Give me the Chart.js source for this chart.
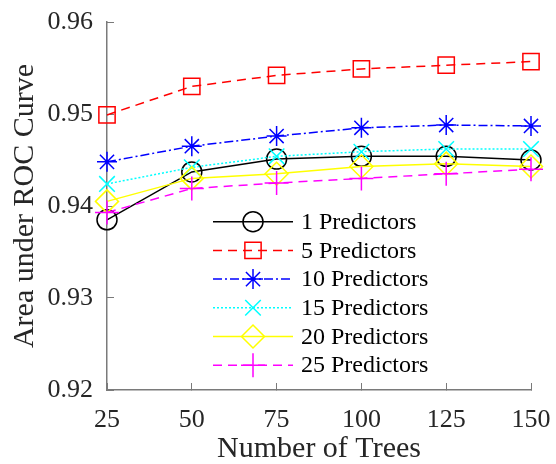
<!DOCTYPE html>
<html>
<head>
<meta charset="utf-8">
<script src="https://cdn.jsdelivr.net/npm/chart.js@4"></script>
<style>
  html, body { margin: 0; padding: 0; background: #fff; }
  #wrap { width: 556px; height: 464px; }
</style>
</head>
<body>
<div id="wrap"><canvas id="rocChart" width="556" height="464"></canvas></div>
<script>
// Data
const trees = [25, 50, 75, 100, 125, 150];
const pred1 = [0.9385, 0.9437, 0.9451, 0.9454, 0.9454, 0.9450];
const pred5 = [0.9499, 0.9530, 0.9542, 0.9549, 0.9553, 0.9557];
const pred10 = [0.9448, 0.9465, 0.9476, 0.9485, 0.9488, 0.9487];
const pred15 = [0.9424, 0.9442, 0.9454, 0.9459, 0.9462, 0.9462];
const pred20 = [0.9405, 0.9430, 0.9435, 0.9443, 0.9446, 0.9443];
const pred25 = [0.9393, 0.9419, 0.9425, 0.9430, 0.9435, 0.9440];
const seriesNames = ['1 Predictors', '5 Predictors', '10 Predictors', '15 Predictors', '20 Predictors', '25 Predictors'];
const yTicks = [0.92, 0.93, 0.94, 0.95, 0.96];
const xTicks = [25, 50, 75, 100, 125, 150];

const serif = "'Liberation Serif', 'Times New Roman', serif";
const axisGray = '#7a7a7a';

const styles = [
    {color: '#000000', dash: [], marker: 'circle', r: 10},
    {color: '#ff0000', dash: [9, 6], marker: 'rect', r: 11.5},
    {color: '#0000ff', dash: [9, 3, 2, 3], marker: 'star', r: 10},
    {color: '#00ffff', dash: [2, 2], marker: 'crossRot', r: 11},
    {color: '#ffff00', dash: [], marker: 'rectRot', r: 11.5},
    {color: '#ff00ff', dash: [9, 6], marker: 'cross', r: 12}
];

const allSeries = [pred1, pred5, pred10, pred15, pred20, pred25];

const datasets = allSeries.map((vals, i) => ({
    label: seriesNames[i],
    data: vals.map((v, j) => ({x: trees[j], y: v})),
    borderColor: styles[i].color,
    backgroundColor: 'rgba(0,0,0,0)',
    borderWidth: 1.5,
    borderDash: styles[i].dash,
    pointStyle: styles[i].marker,
    pointRadius: styles[i].r,
    pointBorderWidth: 1.5,
    pointBorderColor: styles[i].color,
    pointBackgroundColor: 'rgba(0,0,0,0)',
    tension: 0,
    fill: false,
    clip: false,
    order: 6 - i
}));

// no extra room for overhanging tick labels
function fixBox(s, w, h) {
    if (w) s.width = w;
    if (h) s.height = h;
    s.paddingLeft = 0;
    s.paddingRight = 0;
    s.paddingTop = 0;
    s.paddingBottom = 0;
}

// legend drawn inside the axes, MATLAB style
const insideLegend = {
    id: 'insideLegend',
    afterDraw(chart) {
        const ctx = chart.ctx;
        const area = chart.chartArea;
        const x0 = area.left + 106, x1 = area.left + 186, xm = area.left + 146;
        const y0 = area.top + 199.7, step = 28.7;
        ctx.save();
        chart.data.datasets.forEach((ds, i) => {
            const y = y0 + i * step;
            ctx.strokeStyle = ds.borderColor;
            ctx.lineWidth = ds.borderWidth;
            ctx.setLineDash(ds.borderDash);
            ctx.beginPath();
            ctx.moveTo(x0, y);
            ctx.lineTo(x1, y);
            ctx.stroke();
            ctx.setLineDash([]);
            ctx.fillStyle = 'rgba(0,0,0,0)';
            ctx.lineWidth = ds.pointBorderWidth;
            Chart.helpers.drawPoint(ctx, {
                pointStyle: ds.pointStyle,
                radius: ds.pointRadius,
                rotation: 0,
                borderWidth: ds.pointBorderWidth
            }, xm, y);
            ctx.fillStyle = '#000';
            ctx.font = '24px ' + serif;
            ctx.textAlign = 'left';
            ctx.textBaseline = 'middle';
            ctx.fillText(ds.label, area.left + 194, y + 1);
        });
        ctx.restore();
    }
};

new Chart(document.getElementById('rocChart').getContext('2d'), {
    type: 'line',
    data: {datasets: datasets},
    options: {
        responsive: false,
        animation: false,
        layout: {padding: {top: 22, right: 25, left: 0, bottom: 0}},
        plugins: {
            legend: {display: false},
            tooltip: {enabled: false}
        },
        scales: {
            x: {
                type: 'linear',
                min: 25,
                max: 150,
                afterFit: s => fixBox(s, 0, 74),
                afterBuildTicks: s => { s.ticks = xTicks.map(v => ({value: v})); },
                border: {display: true, color: axisGray, width: 1.5},
                grid: {drawOnChartArea: false, drawTicks: true, tickLength: -7, color: axisGray, lineWidth: 1},
                ticks: {
                    padding: 22,
                    color: '#262626',
                    font: {family: serif, size: 26},
                    maxRotation: 0,
                    callback: v => String(v)
                },
                title: {
                    display: true,
                    text: 'Number of Trees',
                    color: '#262626',
                    font: {family: serif, size: 30, lineHeight: 1},
                    padding: {top: 0, bottom: 0}
                }
            },
            y: {
                min: 0.92,
                max: 0.96,
                afterFit: s => fixBox(s, 107, 0),
                afterBuildTicks: s => { s.ticks = yTicks.map(v => ({value: v})); },
                border: {display: true, color: axisGray, width: 1.5},
                grid: {drawOnChartArea: false, drawTicks: true, tickLength: -7, color: axisGray, lineWidth: 1},
                ticks: {
                    padding: 21,
                    color: '#262626',
                    font: {family: serif, size: 26},
                    callback: v => Number(v).toFixed(2)
                },
                title: {
                    display: true,
                    text: 'Area under ROC Curve',
                    color: '#262626',
                    font: {family: serif, size: 30, lineHeight: 1},
                    padding: {top: 10, bottom: 0}
                }
            }
        }
    },
    plugins: [insideLegend]
});
</script>
</body>
</html>
